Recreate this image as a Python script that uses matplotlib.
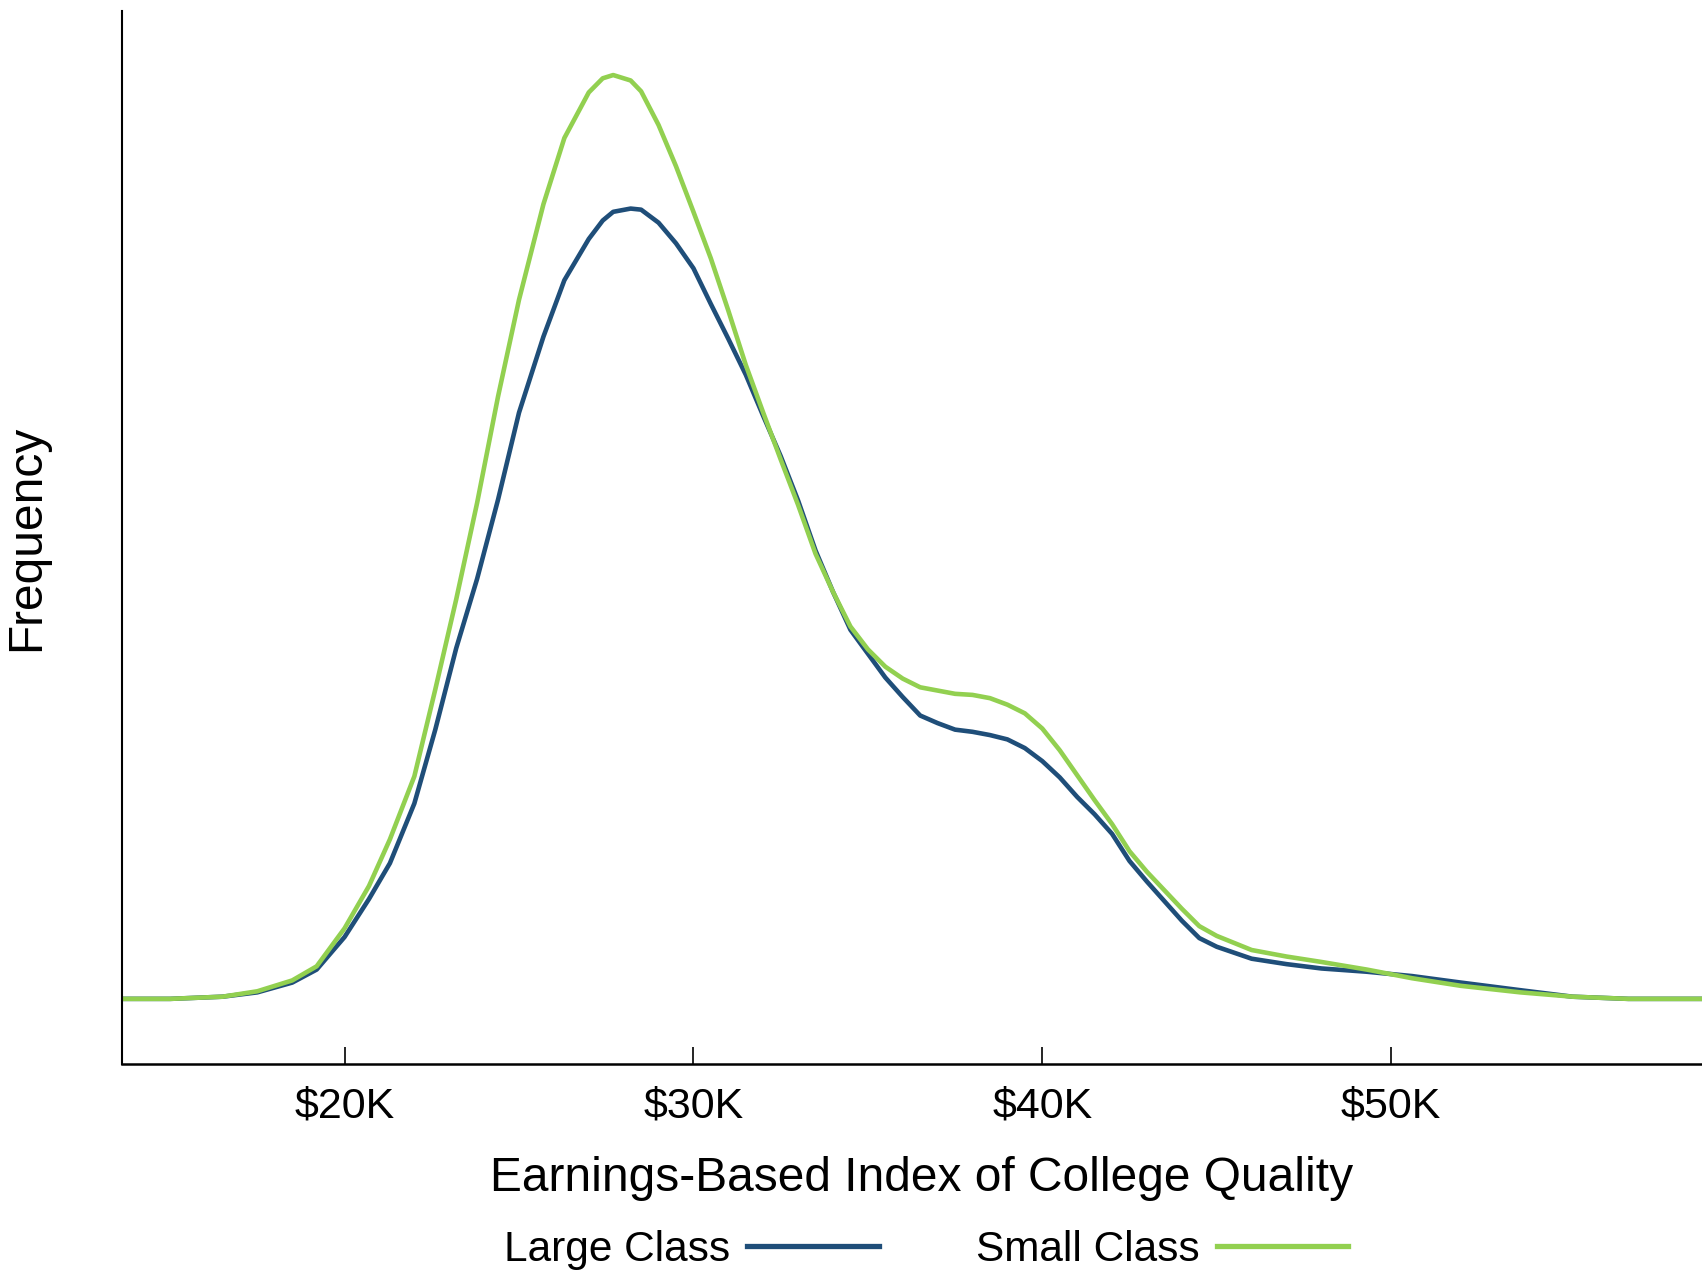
import numpy as np
import matplotlib.pyplot as plt

plt.rcParams['font.family'] = ['Liberation Sans', 'DejaVu Sans']

# college quality index, in $K
quality_k = [13.6, 15.0, 16.5, 17.5, 18.5, 19.2, 20.0, 20.7, 21.3, 22.0, 22.6, 23.2,
             23.8, 24.4, 25.0, 25.7, 26.3, 27.0, 27.4, 27.7, 28.2, 28.5, 29.0, 29.5,
             30.0, 30.5, 31.0, 31.5, 32.0, 32.5, 33.0, 33.5, 34.0, 34.5, 35.0, 35.5,
             36.0, 36.5, 37.0, 37.5, 38.0, 38.5, 39.0, 39.5, 40.0, 40.5, 41.0, 41.5,
             42.0, 42.5, 43.0, 43.5, 44.0, 44.5, 45.0, 46.0, 47.0, 48.0, 49.3, 50.6,
             52.0, 53.7, 55.2, 56.8, 58.9]

# frequency (arbitrary units)
large_class = [0.00, 0.00, 0.02, 0.06, 0.15, 0.27, 0.57, 0.92, 1.25, 1.80, 2.48, 3.23,
               3.87, 4.60, 5.40, 6.10, 6.62, 7.00, 7.17, 7.25, 7.28, 7.27, 7.15, 6.96,
               6.73, 6.40, 6.08, 5.75, 5.37, 5.00, 4.59, 4.13, 3.75, 3.40, 3.18, 2.96,
               2.78, 2.61, 2.54, 2.48, 2.46, 2.43, 2.39, 2.31, 2.19, 2.04, 1.86, 1.70,
               1.52, 1.27, 1.08, 0.90, 0.72, 0.56, 0.48, 0.37, 0.32, 0.28, 0.25, 0.21,
               0.15, 0.08, 0.02, 0.00, 0.00]

small_class = [0.00, 0.00, 0.02, 0.07, 0.17, 0.30, 0.65, 1.04, 1.47, 2.05, 2.85, 3.68,
               4.57, 5.55, 6.44, 7.32, 7.93, 8.35, 8.48, 8.51, 8.46, 8.36, 8.05, 7.67,
               7.25, 6.82, 6.34, 5.84, 5.40, 4.97, 4.55, 4.10, 3.75, 3.43, 3.22, 3.06,
               2.95, 2.87, 2.84, 2.81, 2.80, 2.77, 2.71, 2.63, 2.49, 2.29, 2.06, 1.83,
               1.61, 1.36, 1.17, 1.00, 0.83, 0.67, 0.58, 0.45, 0.39, 0.34, 0.27, 0.19,
               0.12, 0.06, 0.02, 0.00, 0.00]

tick_vals = [20, 30, 40, 50]
tick_labels = ['$20K', '$30K', '$40K', '$50K']

blue = '#1F4E79'
green = '#92D050'

fig = plt.figure(figsize=(17.02, 12.71), dpi=100)
ax = fig.add_axes([122 / 1702, 1 - 1064 / 1271, 1580 / 1702, 1053 / 1271])

ax.plot(quality_k, large_class, color=blue, lw=3.3, label='Large Class',
        solid_joinstyle='round')
ax.plot(quality_k, small_class, color=green, lw=3.3, label='Small Class',
        solid_joinstyle='round')

ax.set_xlim(13.62, 58.91)
ax.set_ylim(-0.60, 9.10)
ax.set_xticks(tick_vals)
ax.set_xticklabels(tick_labels)
ax.set_yticks([])
ax.tick_params(axis='x', direction='in', length=12, width=1.2, pad=16, labelsize=31)

for s in ['top', 'right']:
    ax.spines[s].set_visible(False)
ax.spines['left'].set_linewidth(1.5)
ax.spines['bottom'].set_linewidth(1.8)

ax.set_xlabel('Earnings-Based Index of College Quality', fontsize=34.5)
ax.xaxis.set_label_coords(0.506, -0.087)
ax.set_ylabel('Frequency', fontsize=34.5)
ax.yaxis.set_label_coords(-0.046, 0.5)

leg = fig.legend(loc='center', bbox_to_anchor=(926 / 1702, 1 - 1250 / 1271), ncol=2,
                 markerfirst=False, frameon=False, fontsize=30.5, handlelength=3.1,
                 handletextpad=0.4, columnspacing=2.3)
for line in leg.get_lines():
    line.set_linewidth(3.8)

fig.savefig('out.png', dpi=100)
